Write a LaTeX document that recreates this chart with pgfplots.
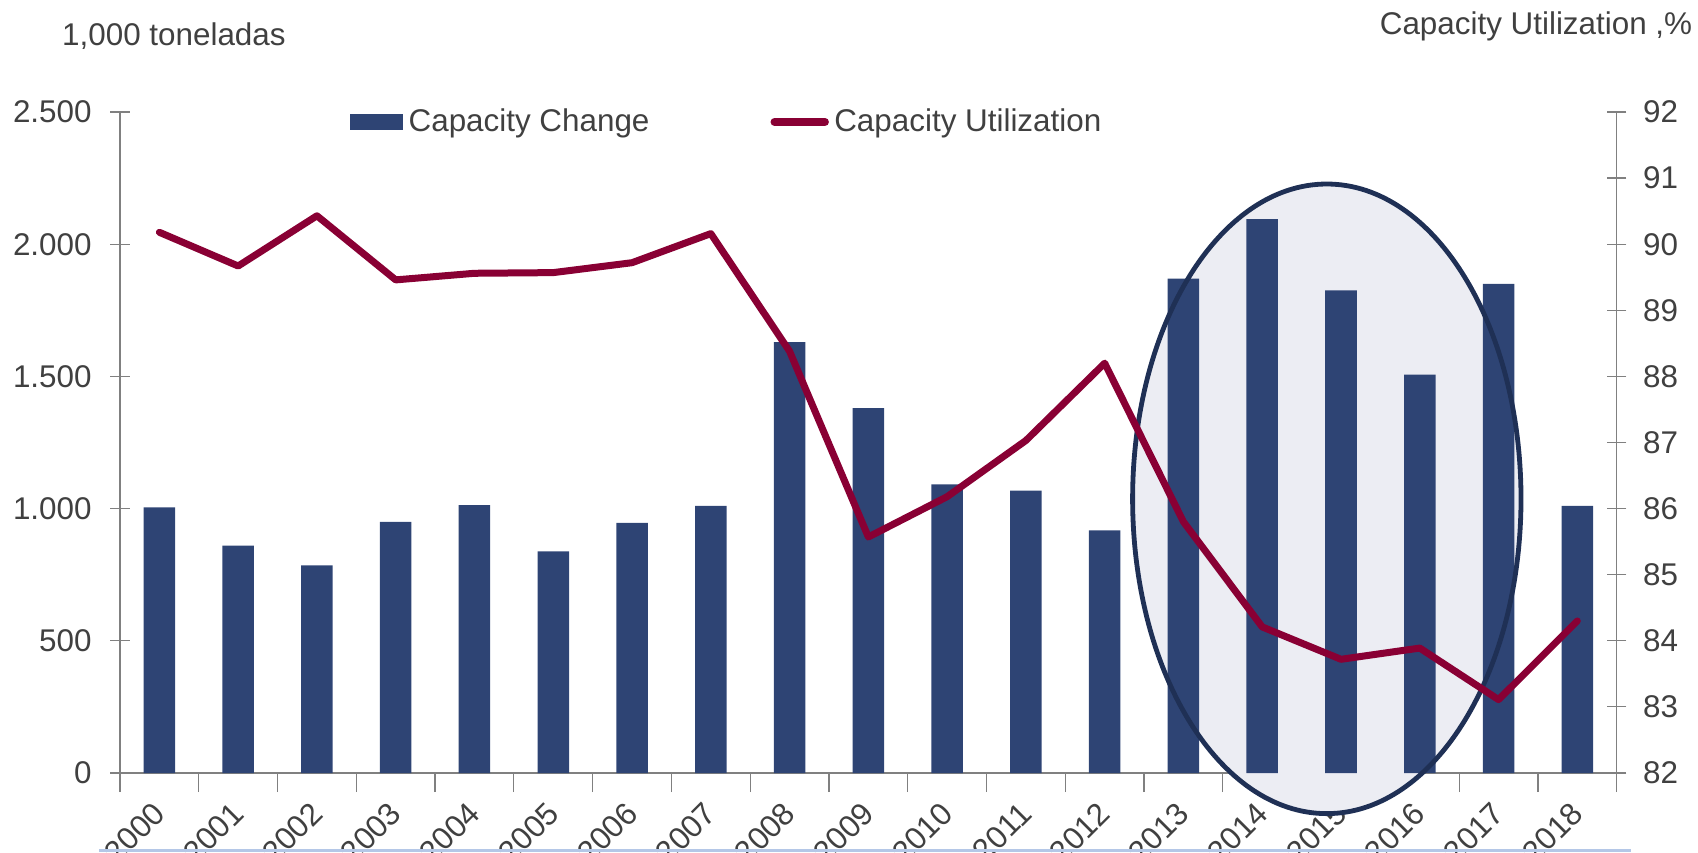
\documentclass[border=0pt]{standalone}
\usepackage{fontspec}
\setmainfont{Liberation Sans}
\usepackage{pgfplots}
\pgfplotsset{compat=1.18}
\definecolor{barblue}{HTML}{2E4474}
\definecolor{linered}{HTML}{890034}
\definecolor{ellfill}{HTML}{ECEDF3}
\definecolor{ellline}{HTML}{1F3055}
\definecolor{axisgray}{HTML}{808080}
\definecolor{textgray}{HTML}{404040}
\definecolor{bottomblue}{HTML}{B4C7E7}
\newcommand{\lbl}{\fontsize{15.7}{18}\selectfont}
\begin{document}
\begin{tikzpicture}
\useasboundingbox (0,0) rectangle (849pt,426pt);
\pgfplotsset{
  common/.style={
    width=748.35pt, height=330.5pt, scale only axis,
    at={(60pt,39.5pt)}, anchor=south west,
    xmin=-0.5, xmax=18.5,
    tick align=center, major tick length=9.6pt, minor tick length=9.6pt,
    tick style={draw=axisgray, line width=0.6pt},
    axis line style={draw=axisgray, line width=0.6pt, -},
    tick label style={font=\lbl, text=textgray},
    /pgf/number format/assume math mode=true,
  }
}
\begin{axis}[common,
  ymin=0, ymax=2500,
  ytick={0,500,1000,1500,2000,2500},
  yticklabels={0,500,1.000,1.500,2.000,2.500},
  axis y line*=left, axis x line*=bottom,
  xtick={0,...,18},
  xticklabels={2000,2001,2002,2003,2004,2005,2006,2007,2008,2009,2010,2011,2012,2013,2014,2015,2016,2017,2018},
  minor xtick={-0.5,0.5,...,18.5},
  major x tick style={draw=none},
  xticklabel style={xshift=-4pt, yshift=-3.7pt, rotate=45, anchor=north east, inner sep=0pt},
  yticklabel style={anchor=east, inner sep=0pt, xshift=-9.2pt},
  clip=false, ybar, bar width=0.4,
]
\fill[ellfill] (axis cs:14.82,1037) ellipse [x radius=97.1pt, y radius=157.4pt];
\addplot[fill=barblue, draw=none] coordinates {
(0,1005) (1,860) (2,785) (3,950) (4,1013) (5,838) (6,946) (7,1010) (8,1630) (9,1380)
(10,1092) (11,1068) (12,918) (13,1870) (14,2095) (15,1825) (16,1507) (17,1850) (18,1010)};
\draw[ellline, line width=2.4pt] (axis cs:14.82,1037) ellipse [x radius=97.1pt, y radius=157.4pt];
\end{axis}
\begin{axis}[common,
  ymin=82, ymax=92,
  ytick={82,83,...,92},
  axis y line*=right, axis x line=none,
  yticklabel style={anchor=west, inner sep=0pt, xshift=8.2pt},
  legend columns=2,
  legend style={at={(0.1537,0.985)}, anchor=west, draw=none, fill=none,
    inner sep=0pt, font=\lbl, text=textgray,
    nodes={inner sep=0pt},
    /tikz/every odd column/.append style={column sep=2.7pt},
    /tikz/every even column/.append style={column sep=60.5pt}},
  legend cell align=left,
]
\addlegendimage{legend image code/.code={\fill[barblue] (0pt,-3.9pt) rectangle (26pt,3.9pt);}}
\addlegendentry{Capacity Change}
\addplot[linered, line width=3.5pt, line join=round, line cap=round, mark=none,
  legend image code/.code={\draw[linered, line width=4pt, line cap=round] (2pt,0pt) -- (27.2pt,0pt);}]
coordinates {
(0,90.18) (1,89.67) (2,90.43) (3,89.46) (4,89.56) (5,89.57) (6,89.72) (7,90.16) (8,88.38) (9,85.57)
(10,86.18) (11,87.03) (12,88.2) (13,85.80) (14,84.21) (15,83.72) (16,83.89) (17,83.11) (18,84.30)};
\addlegendentry{Capacity Utilization}
\end{axis}
\node[anchor=west, text=textgray, font=\lbl, inner sep=0pt] at (30.9pt,407.7pt) {1,000 toneladas};
\node[anchor=east, text=textgray, font=\lbl, inner sep=0pt] at (846.3pt,413pt) {Capacity Utilization ,\%};
\draw[bottomblue, line width=1.6pt] (49.6pt,0.8pt) -- (815.7pt,0.8pt);
\end{tikzpicture}
\end{document}
